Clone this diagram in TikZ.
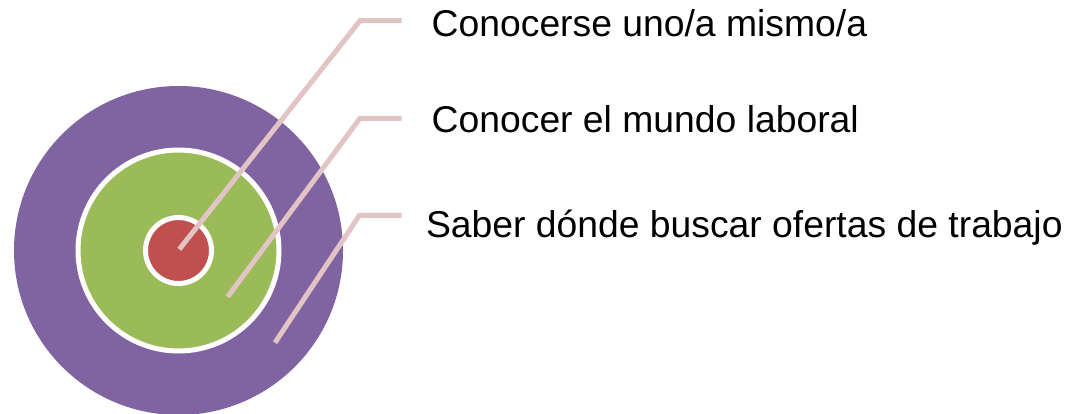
\documentclass[tikz,border=0pt]{standalone}
\usepackage{fontspec}
\setmainfont{Liberation Sans}
\definecolor{ringpurple}{HTML}{8064A2}
\definecolor{ringgreen}{HTML}{9BBB59}
\definecolor{ringred}{HTML}{C0504D}
\definecolor{leader}{HTML}{E3C4C4}
\begin{document}
\begin{tikzpicture}[x=1pt,y=-1pt,
  ring/.style={circle, inner sep=0pt, outer sep=0pt},
  leaderline/.style={draw=leader, line width=5pt, line cap=butt, line join=miter},
  label/.style={anchor=base west, inner sep=0pt, font=\fontsize{37.3}{41}\selectfont, text=black}]
\useasboundingbox (0,0) rectangle (1068,414);
\node[ring, fill=ringpurple, minimum size=329pt] (outer) at (178.5,250.5) {};
\node[ring, fill=ringgreen, draw=white, line width=5pt, minimum size=201pt] (middle) at (178.5,250.5) {};
\node[ring, fill=ringred, draw=white, line width=5pt, minimum size=66pt] (inner) at (178.5,250.5) {};
\coordinate (s1) at (179.3,249.3);
\coordinate (c1) at (360,20.7);
\coordinate (e1) at (401.7,20.7);
\coordinate (s2) at (227.7,296.7);
\coordinate (c2) at (360,118.3);
\coordinate (e2) at (401.7,118.3);
\coordinate (s3) at (275,342.7);
\coordinate (c3) at (359.5,215.3);
\coordinate (e3) at (401.7,215.3);
\draw[leaderline] (s1) -- (c1) -- (e1);
\draw[leaderline] (s2) -- (c2) -- (e2);
\draw[leaderline] (s3) -- (c3) -- (e3);
\node[label] (t1) at (431.5,36.5) {Conocerse uno/a mismo/a};
\node[label] (t2) at (431.5,132.3) {Conocer el mundo laboral};
\node[label] (t3) at (425.8,237.3) {Saber dónde buscar ofertas de trabajo};
\end{tikzpicture}
\end{document}
